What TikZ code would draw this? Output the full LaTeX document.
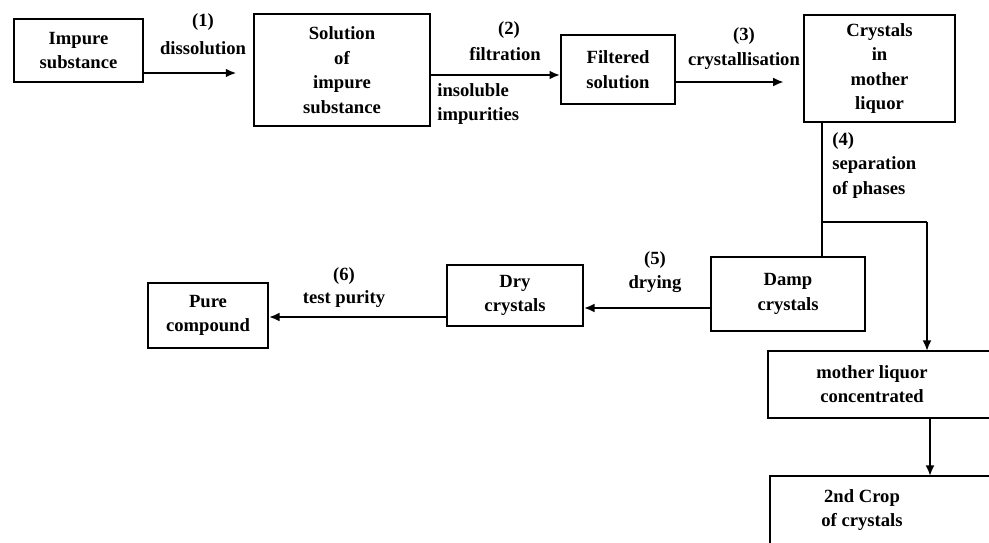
\documentclass[tikz,border=0pt]{standalone}
\usepackage{fontspec}
\setmainfont{Liberation Serif}
\usetikzlibrary{arrows.meta}
\begin{document}
\begin{tikzpicture}[x=0.02cm,y=-0.02cm,
  box/.style 2 args={draw,line width=1.1pt,inner sep=0pt,align=center,
    minimum width=#1*0.02cm,minimum height=#2*0.02cm,
    font=\bfseries\fontsize{10.6}{14}\selectfont},
  lbl/.style={inner sep=0pt,align=center,font=\bfseries\fontsize{10.6}{14}\selectfont},
  conn/.style={line width=1.1pt,-{Latex[length=6pt,width=5pt]}},
  plain/.style={line width=1.1pt}]
\useasboundingbox (0,0) rectangle (989,542);
% boxes
\node[box={129}{63}] (imp) at (78.5,50.5) {Impure\\substance};
\node[box={176}{112}] (sol) at (342,70) {Solution\\of\\impure\\substance};
\node[box={114}{69}] (fil) at (618,69.5) {Filtered\\solution};
\node[box={151}{107}] (cry) at (879.5,68.5) {Crystals\\in\\mother\\liquor};
\node[box={154}{74}] (damp) at (788,294) {Damp\\crystals};
\node[box={136}{61}] (dry) at (515,295.5) {Dry\\crystals};
\node[box={120}{65}] (pure) at (208,315.5) {Pure\\compound};
% cut-off boxes at the right/bottom edges
\draw[plain] (1000,351) -- (768,351) -- (768,418) -- (1000,418);
\node[lbl] (mlc) at (872,384) {mother liquor\\concentrated};
\draw[plain] (1000,476) -- (770,476) -- (770,560);
\node[lbl] (crop) at (862,510) {2nd Crop\\of crystals};
\coordinate (mltop) at (930,351);
\coordinate (mlbot) at (930,418);
\coordinate (croptop) at (930,476);
% connectors
\draw[conn,shorten >=9.5pt] (imp.east |- 0,73) -- (sol.west |- 0,73);
\node[lbl] (l1a) at (203,22) {(1)};
\node[lbl] (l1b) at (203,48) {dissolution};
\draw[conn] (sol.east |- 0,75) -- (fil.west |- 0,75);
\node[lbl] (l2a) at (509,30) {(2)};
\node[lbl] (l2b) at (505,54) {filtration};
\node[lbl,align=left,anchor=north west] (l2c) at (437,83) {insoluble\\impurities};
\draw[conn,shorten >=11pt] (fil.east |- 0,82) -- (cry.west |- 0,82);
\node[lbl] (l3a) at (744,36) {(3)};
\node[lbl] (l3b) at (744,61) {crystallisation};
\coordinate (j4) at (822,222);
\draw[plain] (cry.south -| j4) -- (damp.north -| j4);
\draw[plain] (j4) -- (927,222);
\draw[conn] (927,222) -- (mltop -| 927,0);
\node[lbl,align=left,anchor=north west] (l4) at (832,132) {(4)\\separation\\of phases};
\draw[conn] (damp.west |- 0,308) -- (dry.east |- 0,308);
\node[lbl] (l5a) at (655,260) {(5)};
\node[lbl] (l5b) at (655,284) {drying};
\draw[conn] (dry.west |- 0,317) -- (pure.east |- 0,317);
\node[lbl] (l6a) at (344,276) {(6)};
\node[lbl] (l6b) at (344,299) {test purity};
\draw[conn] (mlbot) -- (croptop);
\end{tikzpicture}
\end{document}
